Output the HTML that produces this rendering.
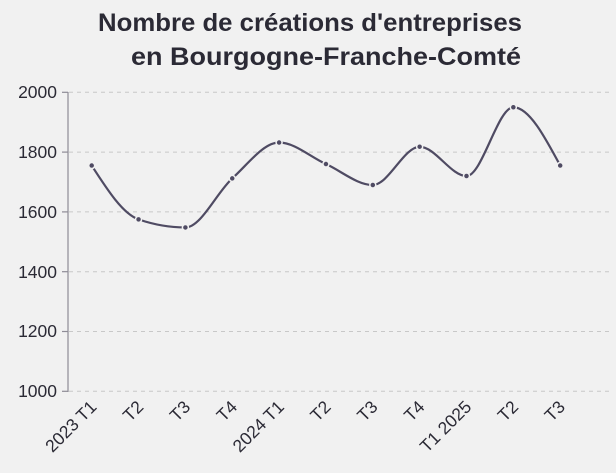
<!DOCTYPE html>
<html><head><meta charset="utf-8"><style>
body{margin:0;background:#f1f1f1;}
svg{display:block;font-family:"Liberation Sans",sans-serif;}
</style></head><body>
<svg id="s" width="616" height="473" viewBox="0 0 616 473">
<rect width="616" height="473" fill="#f1f1f1"/>
<text x="98" y="31" font-size="25" font-weight="bold" fill="#2b2a35" textLength="424" lengthAdjust="spacingAndGlyphs">Nombre de créations d'entreprises</text>
<text x="131" y="65" font-size="25" font-weight="bold" fill="#2b2a35" textLength="390" lengthAdjust="spacingAndGlyphs">en Bourgogne-Franche-Comté</text>
<g stroke="#c8c8c8" stroke-dasharray="4,4" stroke-width="1">
<line x1="69" x2="610" y1="92.3" y2="92.3"/><line x1="69" x2="610" y1="152.1" y2="152.1"/>
<line x1="69" x2="610" y1="211.9" y2="211.9"/><line x1="69" x2="610" y1="271.7" y2="271.7"/>
<line x1="69" x2="610" y1="331.5" y2="331.5"/><line x1="69" x2="610" y1="391.3" y2="391.3"/>
</g>
<g stroke="#8e8c96" stroke-width="1.2">
<line x1="68" x2="68" y1="92" y2="392"/>
<line x1="62" x2="68" y1="92.3" y2="92.3"/><line x1="62" x2="68" y1="152.1" y2="152.1"/>
<line x1="62" x2="68" y1="211.9" y2="211.9"/><line x1="62" x2="68" y1="271.7" y2="271.7"/>
<line x1="62" x2="68" y1="331.5" y2="331.5"/><line x1="62" x2="68" y1="391.3" y2="391.3"/>
</g>
<g font-size="17.5" fill="#2b2a35" text-anchor="end">
<text x="57" y="98">2000</text><text x="57" y="158">1800</text><text x="57" y="218">1600</text>
<text x="57" y="278">1400</text><text x="57" y="337">1200</text><text x="57" y="397">1000</text>
</g>
<g id="xl" font-size="17.5" fill="#2b2a35" text-anchor="end"></g>
<path id="ln" fill="none" stroke="#4f4b63" stroke-width="2.2"/>
<g id="dots"></g>
</svg>
<script>
var vals=[1755,1575,1548,1712,1832,1760,1690,1818,1720,1950,1755];
var labs=["2023 T1","T2","T3","T4","2024 T1","T2","T3","T4","T1 2025","T2","T3"];
var pts=[],n=11;
for(var i=0;i<n;i++){pts.push([91.7+i*46.85,391.3-(vals[i]-1000)*0.299]);}
var dx=[],s=[],m=[];
for(var i=0;i<n-1;i++){dx[i]=pts[i+1][0]-pts[i][0];s[i]=(pts[i+1][1]-pts[i][1])/dx[i];}
for(var i=1;i<n-1;i++){var s0=s[i-1],s1=s[i];var h0=dx[i-1],h1=dx[i];var p=(s0*h1+s1*h0)/(h0+h1);
m[i]=(Math.sign(s0)+Math.sign(s1))*Math.min(Math.abs(s0),Math.abs(s1),0.5*Math.abs(p))||0;}
m[0]=(3*s[0]-m[1])/2;m[n-1]=(3*s[n-2]-m[n-2])/2;
var d="M"+pts[0][0]+","+pts[0][1];
for(var i=0;i<n-1;i++){var h=dx[i]/3;
d+=" C"+(pts[i][0]+h)+","+(pts[i][1]+h*m[i])+" "+(pts[i+1][0]-h)+","+(pts[i+1][1]-h*m[i+1])+" "+pts[i+1][0]+","+pts[i+1][1];}
document.getElementById("ln").setAttribute("d",d);
var ns="http://www.w3.org/2000/svg",g=document.getElementById("dots"),xl=document.getElementById("xl");
pts.forEach(function(p,i){var c=document.createElementNS(ns,"circle");c.setAttribute("cx",p[0]);c.setAttribute("cy",p[1]);c.setAttribute("r","3");c.setAttribute("fill","#4f4b63");c.setAttribute("stroke","#f1f1f1");c.setAttribute("stroke-width","1.5");g.appendChild(c);
var t=document.createElementNS(ns,"text");var tx=p[0]+6,ty=408;t.setAttribute("x",tx);t.setAttribute("y",ty);t.setAttribute("transform","rotate(-45 "+tx+" "+ty+")");t.textContent=labs[i];xl.appendChild(t);});
</script>
</body></html>
